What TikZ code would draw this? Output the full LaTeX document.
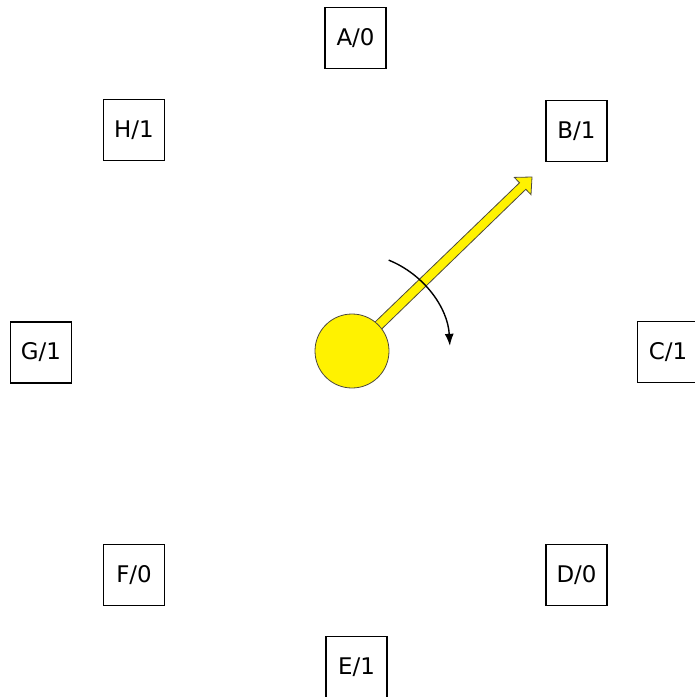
\documentclass[tikz,border=0pt]{standalone}
\usepackage{fontspec}
\setmainfont{DejaVu Sans}
\usetikzlibrary{arrows.meta}
\begin{document}
\begin{tikzpicture}[x={(1bp,0)},y={(0,-1bp)},
  lbox/.style={draw=black,line width=1.6bp,minimum size=61bp,inner sep=0pt,font=\fontsize{23}{26}\selectfont},
  yel/.style={fill=yellow,draw=black!80!yellow,line width=0.8bp}]
\useasboundingbox (0,0) rectangle (695,697);
\node[lbox] (A) at (355.5,38) {A/0};
\node[lbox] (B) at (576.5,131) {B/1};
\node[lbox] (C) at (668,352) {C/1};
\node[lbox] (D) at (576.5,575) {D/0};
\node[lbox] (E) at (356.5,667) {E/1};
\node[lbox] (F) at (134,575) {F/0};
\node[lbox] (G) at (41,352.5) {G/1};
\node[lbox] (H) at (134,130) {H/1};
% arrow (shaft + head)
\draw[yel,line join=miter] (348.6,347.5) -- (519.5,182.8) -- (514.3,177.4) -- (532,177) -- (531.0,194.7) -- (525.8,189.3) -- (355.4,354.5) -- cycle;
\node[yel,circle,minimum size=74bp,inner sep=0pt] (cen) at (352,351) {};
% rotation arrow
\draw[line width=1.4bp,-{Latex[length=12bp,width=9bp]}] ([shift={(-68:98)}]cen.center) arc[start angle=-68,end angle=-3,radius=98];
\end{tikzpicture}
\end{document}
